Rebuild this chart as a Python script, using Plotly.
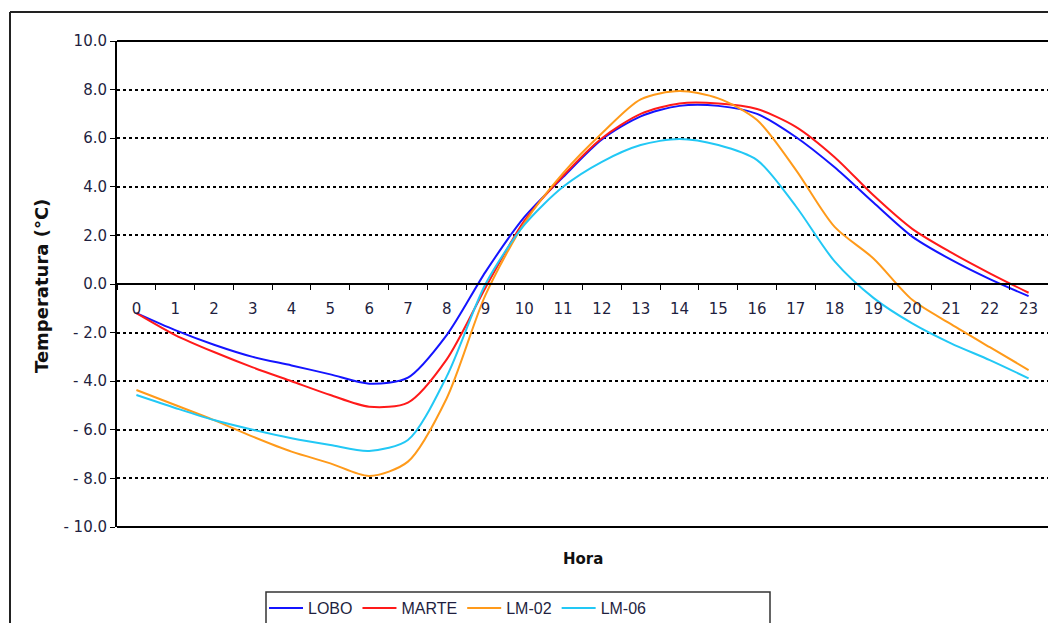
import plotly.graph_objects as go

# Hourly mean temperatures (°C) at four stations
horas = [str(h) for h in range(24)]

lobo = [-1.2, -1.9, -2.5, -3.0, -3.35, -3.72, -4.1, -3.85, -2.1, 0.5, 2.75, 4.4,
        5.95, 6.9, 7.33, 7.33, 7.0, 6.05, 4.8, 3.35, 1.95, 1.0, 0.2, -0.5]
marte = [-1.2, -2.1, -2.8, -3.43, -4.0, -4.57, -5.05, -4.88, -3.1, -0.15, 2.6, 4.45,
         6.0, 7.0, 7.43, 7.43, 7.2, 6.47, 5.22, 3.65, 2.27, 1.3, 0.44, -0.36]
lm02 = [-4.36, -4.98, -5.6, -6.28, -6.9, -7.38, -7.9, -7.31, -4.7, -0.45, 2.5, 4.56,
        6.2, 7.6, 7.94, 7.64, 6.75, 4.7, 2.35, 1.05, -0.65, -1.65, -2.6, -3.54]
lm06 = [-4.57, -5.1, -5.6, -6.0, -6.35, -6.63, -6.87, -6.42, -3.8, 0.0, 2.43, 4.0,
        5.03, 5.72, 5.97, 5.72, 5.1, 3.2, 0.93, -0.57, -1.62, -2.44, -3.13, -3.88]

series = [
    ("LOBO", lobo, "#1414ff"),
    ("MARTE", marte, "#ff1a1a"),
    ("LM-02", lm02, "#ff9a1a"),
    ("LM-06", lm06, "#22c8f5"),
]

y_ticks = [-10, -8, -6, -4, -2, 0, 2, 4, 6, 8, 10]
y_min, y_max = -10, 10


def fmt(v):
    return f"- {abs(v):.1f}" if v < 0 else f"{v:.1f}"


fig = go.Figure()
for name, vals, color in series:
    fig.add_trace(go.Scatter(
        x=horas, y=vals, name=name, mode="lines",
        line=dict(color=color, width=2, shape="spline", smoothing=0.8),
    ))

text_color = "#1f1f3f"
# plot area spans x 117..1048 px and y 41..527 px
px_x = lambda p: (p - 117) / 931
px_y = lambda p: (527 - p) / 486

fig.update_layout(
    width=1048, height=623,
    margin=dict(l=117, r=0, t=41, b=96, autoexpand=False),
    paper_bgcolor="white", plot_bgcolor="white",
    font=dict(family="DejaVu Sans", size=15, color=text_color),
    showlegend=True,
    legend=dict(
        orientation="h", x=px_x(264), xanchor="left",
        y=px_y(591), yanchor="top",
        bgcolor="rgba(0,0,0,0)", borderwidth=0,
        font=dict(family="Liberation Sans", size=16, color=text_color),
        itemwidth=34, tracegroupgap=0,
    ),
    xaxis=dict(
        type="category", categoryorder="array", categoryarray=horas,
        tickmode="array", tickvals=horas, ticktext=horas,
        tickson="boundaries",
        anchor="free", position=(0 - y_min) / (y_max - y_min),
        showline=True, linecolor="black", linewidth=1.5,
        ticks="outside", ticklen=5, tickcolor="black", tickwidth=1.2,
        ticklabelstandoff=11,
        showgrid=False, zeroline=False,
        tickfont=dict(family="DejaVu Sans", size=15, color=text_color),
        range=[-0.5, 23.5],
    ),
    yaxis=dict(
        range=[y_min, y_max],
        tickmode="array", tickvals=y_ticks, ticktext=[fmt(v) for v in y_ticks],
        showline=True, linecolor="black", linewidth=2,
        ticks="outside", ticklen=5, tickcolor="black", tickwidth=1.2,
        showgrid=True, gridcolor="black", griddash="dot", gridwidth=2,
        zeroline=False,
        tickfont=dict(family="DejaVu Sans", size=15, color=text_color),
    ),
    shapes=[
        # plot-area frame (top and bottom)
        dict(type="line", xref="paper", yref="paper", x0=0, x1=1, y0=1, y1=1,
             line=dict(color="black", width=2)),
        dict(type="line", xref="paper", yref="paper", x0=0, x1=1, y0=0, y1=0,
             line=dict(color="black", width=2)),
        # chart-area border
        dict(type="line", xref="paper", yref="paper",
             x0=px_x(10), x1=px_x(10), y0=px_y(12), y1=px_y(640),
             line=dict(color="#222222", width=2)),
        dict(type="line", xref="paper", yref="paper",
             x0=px_x(10), x1=px_x(1060), y0=px_y(12), y1=px_y(12),
             line=dict(color="#222222", width=2)),
        # legend frame
        dict(type="rect", xref="paper", yref="paper",
             x0=px_x(266), x1=px_x(770), y0=px_y(592), y1=px_y(640),
             line=dict(color="#333333", width=1.5), layer="below"),
    ],
    annotations=[
        dict(text="<b>Temperatura (°C)</b>", textangle=-90,
             xref="paper", yref="paper", x=px_x(41), y=px_y(286),
             xanchor="center", yanchor="middle", showarrow=False,
             font=dict(family="DejaVu Sans", size=18, color="#111111")),
        dict(text="<b>Hora</b>",
             xref="paper", yref="paper", x=px_x(583), y=px_y(559),
             xanchor="center", yanchor="middle", showarrow=False,
             font=dict(family="DejaVu Sans", size=15, color="#111111")),
    ],
)

fig.write_html("out.html")
